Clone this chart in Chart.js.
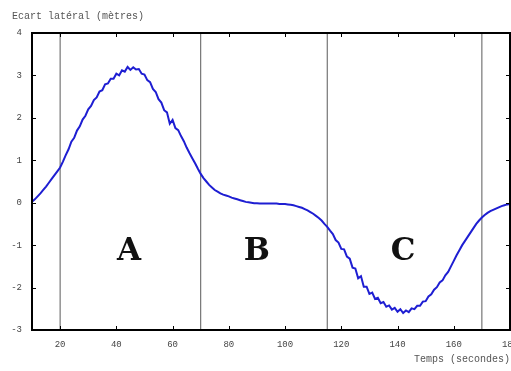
<!DOCTYPE html>
<html>
<head>
<meta charset="utf-8">
<script src="https://cdn.jsdelivr.net/npm/chart.js@4/dist/chart.umd.min.js"></script>
<style>
	html, body { margin: 0; padding: 0; background: #fff; }
	#wrap { width: 511px; height: 371px; }
</style>
</head>
<body>
<div id="wrap"><canvas id="ecart"></canvas></div>
<script>
// sampling: one value per second, from t = 10 s
const tStart = 10
const tStep = 1

// lateral offset (metres)
const ecart = [
	0.02, 0.08, 0.15, 0.22, 0.30, 0.38, 0.47, 0.56, 0.65, 0.74,
	0.83, 0.97, 1.12, 1.26, 1.44, 1.53, 1.70, 1.80, 1.96, 2.05,
	2.20, 2.28, 2.42, 2.48, 2.62, 2.65, 2.79, 2.81, 2.92, 2.92,
	3.04, 3.00, 3.12, 3.09, 3.20, 3.13, 3.19, 3.14, 3.15, 3.04,
	3.02, 2.89, 2.84, 2.68, 2.61, 2.44, 2.36, 2.18, 2.13, 1.86,
	1.95, 1.76, 1.71, 1.57, 1.45, 1.30, 1.17, 1.05, 0.93, 0.80,
	0.68, 0.58, 0.50, 0.42, 0.36, 0.30, 0.26, 0.22, 0.19, 0.17,
	0.15, 0.12, 0.10, 0.08, 0.06, 0.04, 0.02, 0.01, 0.00, -0.01,
	-0.01, -0.02, -0.02, -0.02, -0.02, -0.02, -0.02, -0.02, -0.03, -0.03,
	-0.03, -0.04, -0.05, -0.06, -0.08, -0.10, -0.12, -0.15, -0.18, -0.22,
	-0.26, -0.31, -0.36, -0.42, -0.50, -0.57, -0.66, -0.74, -0.88, -0.94,
	-1.09, -1.10, -1.27, -1.32, -1.53, -1.55, -1.78, -1.73, -1.98, -1.98,
	-2.15, -2.12, -2.27, -2.24, -2.37, -2.34, -2.45, -2.42, -2.52, -2.48,
	-2.57, -2.51, -2.60, -2.54, -2.58, -2.49, -2.51, -2.43, -2.43, -2.33,
	-2.32, -2.21, -2.16, -2.05, -1.99, -1.88, -1.83, -1.71, -1.63, -1.50,
	-1.37, -1.24, -1.12, -1.00, -0.90, -0.80, -0.70, -0.60, -0.50, -0.42,
	-0.35, -0.29, -0.24, -0.20, -0.17, -0.14, -0.11, -0.08, -0.06, -0.04, -0.03,
]

// phase boundaries (seconds) and phase names
const dividers = [20, 70, 115, 170]
const zoneNames = ['A', 'B', 'C']
const zoneX = [44.5, 90, 142]
const zoneY = -1.17

const xMin = 10
const xMax = 180
const yMin = -3
const yMax = 4

const yTitle = 'Ecart latéral (mètres)'
const xTitle = 'Temps (secondes)'

const monoFont = '"Liberation Mono", "DejaVu Sans Mono", monospace'
const letterFont = '"DejaVu Serif", "Liberation Serif", serif'

//points for the curve
const curve = ecart.map((v, i) => ({ x: tStart + i * tStep, y: v }))

//vertical lines as two point datasets
const dividerSets = dividers.map(d => ({
	data: [{ x: d, y: yMin }, { x: d, y: yMax }],
	borderColor: '#5a5a5a',
	borderWidth: 1,
	pointRadius: 0,
	order: 2,
}))

//frame, inward ticks, zone letters and axis titles
const decor = {
	id: 'decor',
	afterDatasetsDraw(chart) {
		const { ctx, chartArea: a, scales } = chart
		ctx.save()

		ctx.strokeStyle = '#000'
		ctx.lineWidth = 1
		scales.x.ticks.forEach(t => {
			if (t.value % 20 !== 0) return
			const px = Math.round(scales.x.getPixelForValue(t.value)) + 0.5
			ctx.beginPath()
			ctx.moveTo(px, a.bottom)
			ctx.lineTo(px, a.bottom - 4)
			ctx.moveTo(px, a.top)
			ctx.lineTo(px, a.top + 4)
			ctx.stroke()
		})
		scales.y.ticks.forEach(t => {
			const py = Math.round(scales.y.getPixelForValue(t.value)) + 0.5
			ctx.beginPath()
			ctx.moveTo(a.left, py)
			ctx.lineTo(a.left + 4, py)
			ctx.moveTo(a.right, py)
			ctx.lineTo(a.right - 4, py)
			ctx.stroke()
		})

		ctx.lineWidth = 2
		ctx.strokeRect(a.left, a.top, a.right - a.left, a.bottom - a.top)

		//zone letters
		ctx.fillStyle = '#111'
		ctx.font = `bold 31px ${letterFont}`
		ctx.textAlign = 'center'
		ctx.textBaseline = 'middle'
		zoneNames.forEach((n, i) => {
			ctx.fillText(n, scales.x.getPixelForValue(zoneX[i]), scales.y.getPixelForValue(zoneY))
		})

		//axis titles
		ctx.fillStyle = '#555'
		ctx.font = `10px ${monoFont}`
		ctx.textAlign = 'left'
		ctx.textBaseline = 'alphabetic'
		ctx.fillText(yTitle, 12, 19)
		ctx.fillText(xTitle, 414, 362)

		ctx.restore()
	},
}

const ctx = document.querySelector('#ecart').getContext('2d')

new Chart(ctx, {
	type: 'line',
	data: {
		datasets: [
			{
				data: curve,
				borderColor: '#1e1ed2',
				borderWidth: 2,
				pointRadius: 0,
				tension: 0,
				order: 1,
			},
			...dividerSets,
		],
	},
	options: {
		responsive: true,
		maintainAspectRatio: false,
		animation: false,
		events: [],
		layout: { padding: { top: 33, left: 0, right: 1, bottom: 0 } },
		plugins: {
			legend: { display: false },
			tooltip: { enabled: false },
		},
		scales: {
			x: {
				type: 'linear',
				min: xMin,
				max: xMax,
				border: { display: false },
				grid: { display: false, drawTicks: false },
				ticks: {
					stepSize: 20,
					padding: 9,
					color: '#444',
					font: { family: monoFont, size: 9 },
					maxRotation: 0,
					autoSkip: false,
					callback: v => (v % 20 === 0 ? v : ''),
				},
				afterFit: s => {
					s.height = 41
					s.paddingLeft = 0
					s.paddingRight = 0
				},
			},
			y: {
				min: yMin,
				max: yMax,
				border: { display: false },
				grid: { display: false, drawTicks: false },
				ticks: {
					stepSize: 1,
					padding: 10,
					color: '#444',
					font: { family: monoFont, size: 9 },
				},
				afterFit: s => {
					s.width = 32
					s.paddingTop = 0
					s.paddingBottom = 0
				},
			},
		},
	},
	plugins: [decor],
})
</script>
</body>
</html>
